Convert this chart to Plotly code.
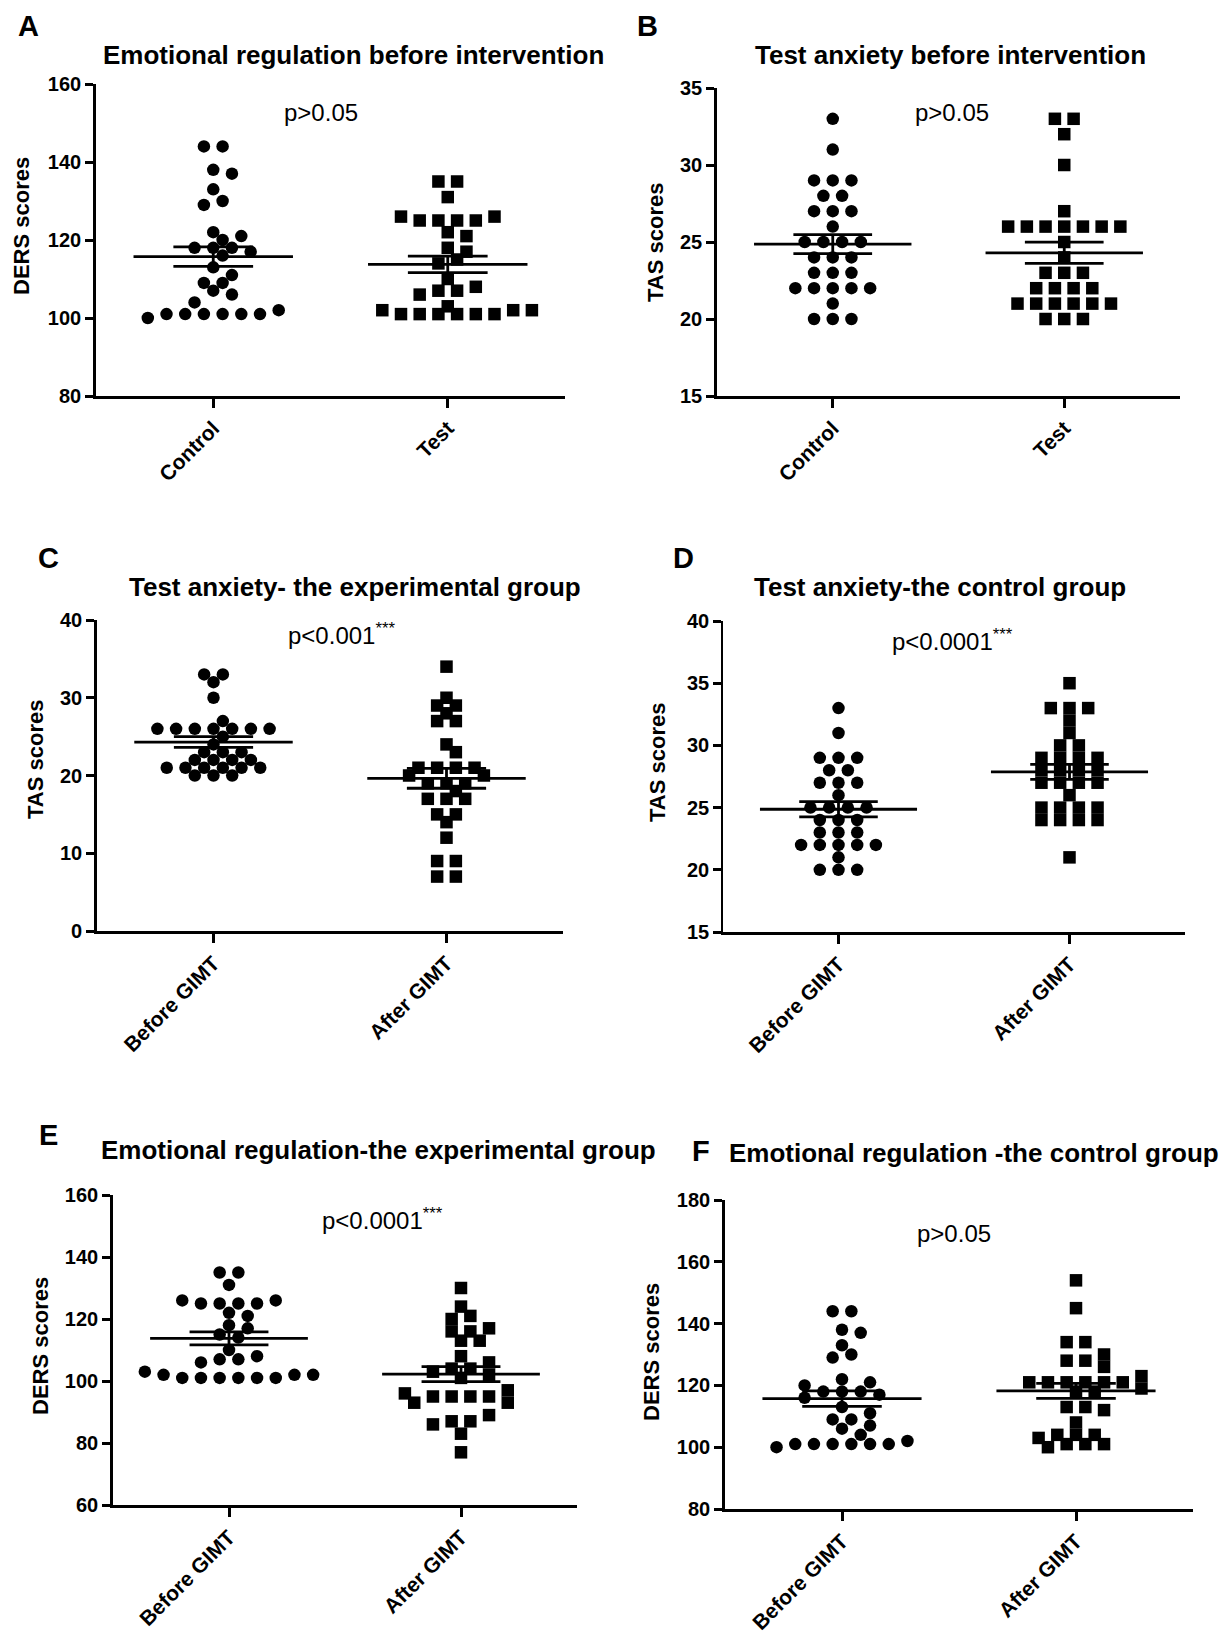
import numpy as np
import plotly.graph_objects as go

FONT = "Liberation Sans, Arial, sans-serif"
W, H = 1228, 1636

# ---------------- data ----------------
ders_control = [144, 144, 138, 137, 133, 130, 129, 122, 121, 120, 118, 118, 118, 117, 116,
                113, 111, 109, 109, 107, 106, 104, 102, 101, 101, 101, 101, 101, 101, 100]
ders_test = [135, 135, 131, 126, 126, 125, 125, 125, 125, 122, 121, 118, 117, 115, 114,
             110, 108, 107, 107, 106, 103, 102, 102, 102, 101, 101, 101, 101, 101, 101]
tas_control = [33, 31, 29, 29, 29, 28, 28, 27, 27, 27, 26, 25, 25, 25, 25,
               24, 24, 24, 23, 23, 23, 22, 22, 22, 22, 22, 21, 20, 20, 20]
tas_test = [33, 33, 32, 30, 27, 26, 26, 26, 26, 26, 26, 26, 25, 24, 23,
            23, 23, 22, 22, 22, 22, 21, 21, 21, 21, 21, 21, 20, 20, 20]
tas_exp_after = [34, 30, 29, 29, 28, 27, 27, 24, 23, 21, 21, 21, 21, 20, 20,
                 19, 19, 19, 18, 17, 17, 17, 15, 15, 14, 12, 9, 9, 7, 7]
tas_ctrl_after = [35, 33, 33, 33, 32, 31, 30, 30, 29, 29, 29, 29, 28, 28, 28,
                  28, 27, 27, 27, 27, 26, 25, 25, 25, 25, 24, 24, 24, 24, 21]
ders_exp_after = [130, 124, 121, 120, 117, 116, 116, 113, 113, 108, 106, 104, 104, 103, 102,
                  101, 97, 96, 95, 95, 95, 95, 93, 93, 89, 87, 87, 86, 83, 77]
ders_ctrl_after = [154, 145, 134, 134, 130, 128, 128, 126, 123, 121, 121, 121, 121, 121, 121,
                   119, 118, 118, 113, 113, 112, 108, 104, 104, 104, 103, 101, 101, 101, 100]

cats_groups = ["Control", "Test"]
cats_gimt = ["Before GIMT", "After GIMT"]

titles = ["Emotional regulation before intervention", "Test anxiety before intervention",
          "Test anxiety- the experimental group", "Test anxiety-the control group",
          "Emotional regulation-the experimental group", "Emotional regulation -the control group"]
letters = ["A", "B", "C", "D", "E", "F"]
ytitles = ["DERS scores", "TAS scores", "TAS scores", "TAS scores", "DERS scores", "DERS scores"]
pvals = ["p>0.05", "p>0.05", "p<0.001<sup>***</sup>", "p<0.0001<sup>***</sup>",
         "p<0.0001<sup>***</sup>", "p>0.05"]
yranges = [(80, 160), (15, 35), (0, 40), (15, 40), (60, 160), (80, 180)]
ydticks = [20, 5, 10, 5, 20, 20]

panel_groups = [
    (ders_control, ders_test), (tas_control, tas_test),
    (tas_test, tas_exp_after), (tas_control, tas_ctrl_after),
    (ders_test, ders_exp_after), (ders_control, ders_ctrl_after),
]
panel_cats = [cats_groups, cats_groups, cats_gimt, cats_gimt, cats_gimt, cats_gimt]
panel_symbols = [("circle", "square")] * 6

# ---------------- layout geometry (pixels) ----------------
boxes = [(96, 565, 396, 84), (717, 1180, 396, 88),
         (97, 563, 931, 620), (723, 1185, 932, 621),
         (113, 577, 1505, 1195), (725, 1193, 1509, 1200)]
title_pos = [(353, 55), (950, 55), (355, 587), (940, 587), (378, 1150), (974, 1153)]
letter_pos = [(28, 26), (647, 26), (49, 558), (683, 558), (49, 1135), (701, 1151)]
ytitle_pos = [(21, 226), (655, 243), (35, 760), (657, 763), (40, 1346), (651, 1352)]
p_pos = [(282, 113), (913, 113), (286, 634), (890, 640), (320, 1219), (915, 1233)]
yline_w = [2.6, 2.6, 2.6, 1.6, 2.6, 2.6]

STEP = 18.7   # px between neighbours in a row
DMIN = 12.1   # px minimal distance between different values


def px2paper(x, y):
    return x / W, 1 - y / H


def swarm(values, px_per_y):
    vals = np.asarray(values, float)
    uniq, counts = np.unique(vals, return_counts=True)
    order = sorted(range(len(uniq)), key=lambda i: (-counts[i], -uniq[i]))
    placed = []
    h = STEP / 2
    ks = [0] + [s * k for k in range(1, 40) for s in (1, -1)]
    xs, ys = [], []
    for i in order:
        v, n = uniq[i], counts[i]
        y = v * px_per_y

        def ok(x):
            return all((x - a) ** 2 + (y - b) ** 2 >= DMIN ** 2 for a, b in placed)

        base = [(j - (n - 1) / 2) * STEP for j in range(n)]
        chosen = None
        for k in ks[:5]:
            cand = [b + k * h for b in base]
            if all(ok(c) for c in cand):
                chosen = cand
                break
        if chosen is None:
            chosen = []
            for _ in range(n):
                for k in ks:
                    x = k * h
                    if ok(x) and all(abs(x - c) >= STEP - 1e-6 for c in chosen):
                        chosen.append(x)
                        break
        for c in chosen:
            placed.append((c, y))
            xs.append(c)
            ys.append(v)
    return np.array(xs), np.array(ys)


fig = go.Figure()
annotations = []
layout_axes = {}

for p in range(6):
    L, R, B, T = boxes[p]
    y0, y1 = yranges[p]
    px_y = (B - T) / (y1 - y0)
    px_x = (R - L) / 2.0
    sfx = "" if p == 0 else str(p + 1)
    xa, ya = "x" + sfx, "y" + sfx

    for gi, vals in enumerate(panel_groups[p]):
        dx, vy = swarm(vals, px_y)
        fig.add_trace(go.Scatter(
            x=gi + dx / px_x, y=vy, mode="markers", xaxis=xa, yaxis=ya,
            marker=dict(symbol=panel_symbols[p][gi], size=12.5, color="black",
                        line=dict(width=0)),
            showlegend=False, hoverinfo="y", cliponaxis=False))
        arr = np.asarray(vals, float)
        m = arr.mean()
        s = arr.std(ddof=1) / np.sqrt(len(arr))
        lx = [gi - 0.34, gi + 0.34, None, gi - 0.17, gi + 0.17, None,
              gi - 0.17, gi + 0.17, None, gi, gi]
        ly = [m, m, None, m + s, m + s, None, m - s, m - s, None, m - s, m + s]
        fig.add_trace(go.Scatter(
            x=lx, y=ly, mode="lines", xaxis=xa, yaxis=ya,
            line=dict(color="black", width=2.8), showlegend=False, hoverinfo="skip"))

    x0p, _ = px2paper(L, 0)
    x1p, _ = px2paper(R, 0)
    _, yb = px2paper(0, B)
    _, yt = px2paper(0, T)
    layout_axes["xaxis" + sfx] = dict(
        domain=[x0p, x1p], anchor=ya, range=[-0.5, 1.5], automargin=False,
        tickvals=[0, 1], ticktext=panel_cats[p], tickangle=-45,
        tickfont=dict(family=FONT, size=21, color="black", weight="bold"),
        ticks="outside", ticklen=9, tickwidth=2.6, tickcolor="black",
        showline=True, linewidth=2.6, linecolor="black",
        showgrid=False, zeroline=False, fixedrange=True)
    layout_axes["yaxis" + sfx] = dict(
        domain=[yb, yt], anchor=xa, range=[y0, y1], automargin=False,
        tickvals=list(range(y0, y1 + 1, ydticks[p])),
        tickfont=dict(family=FONT, size=20, color="black", weight="bold"),
        ticks="outside", ticklen=8, tickwidth=2.6, tickcolor="black",
        showline=True, linewidth=yline_w[p], linecolor="black",
        showgrid=False, zeroline=False, fixedrange=True)

    tx, ty = px2paper(*title_pos[p])
    annotations.append(dict(x=tx, y=ty, xref="paper", yref="paper", text="<b>%s</b>" % titles[p],
                            showarrow=False, xanchor="center", yanchor="middle",
                            font=dict(family=FONT, size=26, color="black")))
    lx_, ly_ = px2paper(*letter_pos[p])
    annotations.append(dict(x=lx_, y=ly_, xref="paper", yref="paper", text="<b>%s</b>" % letters[p],
                            showarrow=False, xanchor="center", yanchor="middle",
                            font=dict(family=FONT, size=29, color="black")))
    ax_, ay_ = px2paper(*ytitle_pos[p])
    annotations.append(dict(x=ax_, y=ay_, xref="paper", yref="paper", text="<b>%s</b>" % ytitles[p],
                            showarrow=False, xanchor="center", yanchor="middle", textangle=-90,
                            font=dict(family=FONT, size=22, color="black")))
    px_, py_ = px2paper(*p_pos[p])
    annotations.append(dict(x=px_, y=py_, xref="paper", yref="paper", text=pvals[p],
                            showarrow=False, xanchor="left", yanchor="middle",
                            font=dict(family=FONT, size=24, color="black")))

fig.update_layout(
    width=W, height=H, margin=dict(l=0, r=0, t=0, b=0, autoexpand=False),
    paper_bgcolor="white", plot_bgcolor="white",
    annotations=annotations, showlegend=False,
    **layout_axes)

fig.write_html("out.html", include_plotlyjs=True, config={"displayModeBar": False},
               post_script="document.body.style.margin='0';document.body.style.overflow='hidden';")
